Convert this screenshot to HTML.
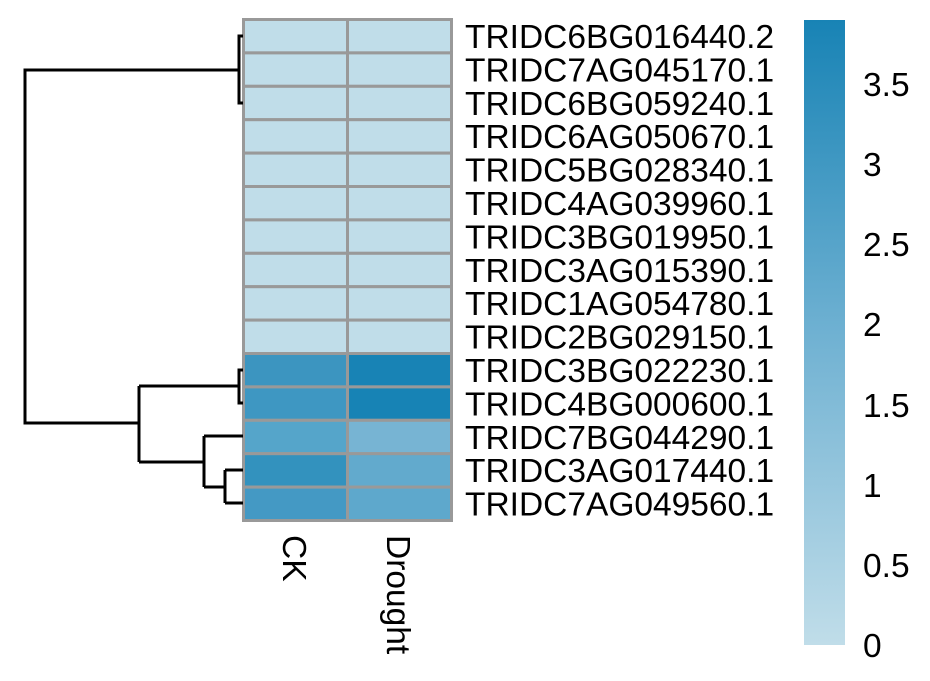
<!DOCTYPE html>
<html><head><style>body{margin:0;background:#fff}svg{display:block}text{font-family:"Liberation Sans",sans-serif;font-size:33.5px;fill:#000}</style></head>
<body>
<svg width="930" height="681" viewBox="0 0 930 681">
<defs><linearGradient id="g" x1="0" y1="1" x2="0" y2="0"><stop offset="0" stop-color="#c0dde9"/><stop offset="0.5" stop-color="#6fb1d2"/><stop offset="1" stop-color="#1883b5"/></linearGradient></defs>
<g stroke="#999" stroke-width="3">
<rect x="243.5" y="19.5" width="104" height="33.4" fill="#c0dde9"/><rect x="347.5" y="19.5" width="104" height="33.4" fill="#c0dde9"/>
<rect x="243.5" y="52.9" width="104" height="33.4" fill="#c0dde9"/><rect x="347.5" y="52.9" width="104" height="33.4" fill="#c0dde9"/>
<rect x="243.5" y="86.3" width="104" height="33.4" fill="#c0dde9"/><rect x="347.5" y="86.3" width="104" height="33.4" fill="#c0dde9"/>
<rect x="243.5" y="119.7" width="104" height="33.4" fill="#c0dde9"/><rect x="347.5" y="119.7" width="104" height="33.4" fill="#c0dde9"/>
<rect x="243.5" y="153.1" width="104" height="33.4" fill="#c0dde9"/><rect x="347.5" y="153.1" width="104" height="33.4" fill="#c0dde9"/>
<rect x="243.5" y="186.5" width="104" height="33.4" fill="#c0dde9"/><rect x="347.5" y="186.5" width="104" height="33.4" fill="#c0dde9"/>
<rect x="243.5" y="219.9" width="104" height="33.4" fill="#c0dde9"/><rect x="347.5" y="219.9" width="104" height="33.4" fill="#c0dde9"/>
<rect x="243.5" y="253.3" width="104" height="33.4" fill="#c0dde9"/><rect x="347.5" y="253.3" width="104" height="33.4" fill="#c0dde9"/>
<rect x="243.5" y="286.7" width="104" height="33.4" fill="#c0dde9"/><rect x="347.5" y="286.7" width="104" height="33.4" fill="#c0dde9"/>
<rect x="243.5" y="320.1" width="104" height="33.4" fill="#c0dde9"/><rect x="347.5" y="320.1" width="104" height="33.4" fill="#c0dde9"/>
<rect x="243.5" y="353.5" width="104" height="33.4" fill="#3c95c0"/><rect x="347.5" y="353.5" width="104" height="33.4" fill="#1883b5"/>
<rect x="243.5" y="386.9" width="104" height="33.4" fill="#3e97c2"/><rect x="347.5" y="386.9" width="104" height="33.4" fill="#1783b5"/>
<rect x="243.5" y="420.3" width="104" height="33.4" fill="#55a5ca"/><rect x="347.5" y="420.3" width="104" height="33.4" fill="#77b4d3"/>
<rect x="243.5" y="453.7" width="104" height="33.4" fill="#3392be"/><rect x="347.5" y="453.7" width="104" height="33.4" fill="#62aacd"/>
<rect x="243.5" y="487.1" width="104" height="33.4" fill="#4499c4"/><rect x="347.5" y="487.1" width="104" height="33.4" fill="#5ea8cc"/>
</g>
<g stroke="#000" stroke-width="3" fill="none">
<path d="M243 36H239V103H243M239 70H25V423H139M139 386V462M243 370H239V403H243M239 386H139M139 462H204M204 436V487M243 436H204M204 487H225M225 470V503M243 470H225M243 503H225"/>
</g>
<g>
<text x="465" y="48">TRIDC6BG016440.2</text>
<text x="465" y="81.4">TRIDC7AG045170.1</text>
<text x="465" y="114.8">TRIDC6BG059240.1</text>
<text x="465" y="148.2">TRIDC6AG050670.1</text>
<text x="465" y="181.6">TRIDC5BG028340.1</text>
<text x="465" y="215">TRIDC4AG039960.1</text>
<text x="465" y="248.4">TRIDC3BG019950.1</text>
<text x="465" y="281.8">TRIDC3AG015390.1</text>
<text x="465" y="315.2">TRIDC1AG054780.1</text>
<text x="465" y="348.6">TRIDC2BG029150.1</text>
<text x="465" y="382">TRIDC3BG022230.1</text>
<text x="465" y="415.4">TRIDC4BG000600.1</text>
<text x="465" y="448.8">TRIDC7BG044290.1</text>
<text x="465" y="482.2">TRIDC3AG017440.1</text>
<text x="465" y="515.6">TRIDC7AG049560.1</text>
</g>
<text transform="translate(283,535) rotate(90)">CK</text>
<text transform="translate(387,535) rotate(90)">Drought</text>
<rect x="804" y="20" width="41" height="625" fill="url(#g)"/>
<g>
<text x="863" y="657">0</text>
<text x="863" y="577">0.5</text>
<text x="863" y="497">1</text>
<text x="863" y="417">1.5</text>
<text x="863" y="336">2</text>
<text x="863" y="256">2.5</text>
<text x="863" y="176">3</text>
<text x="863" y="96">3.5</text>
</g>
</svg>
</body></html>
